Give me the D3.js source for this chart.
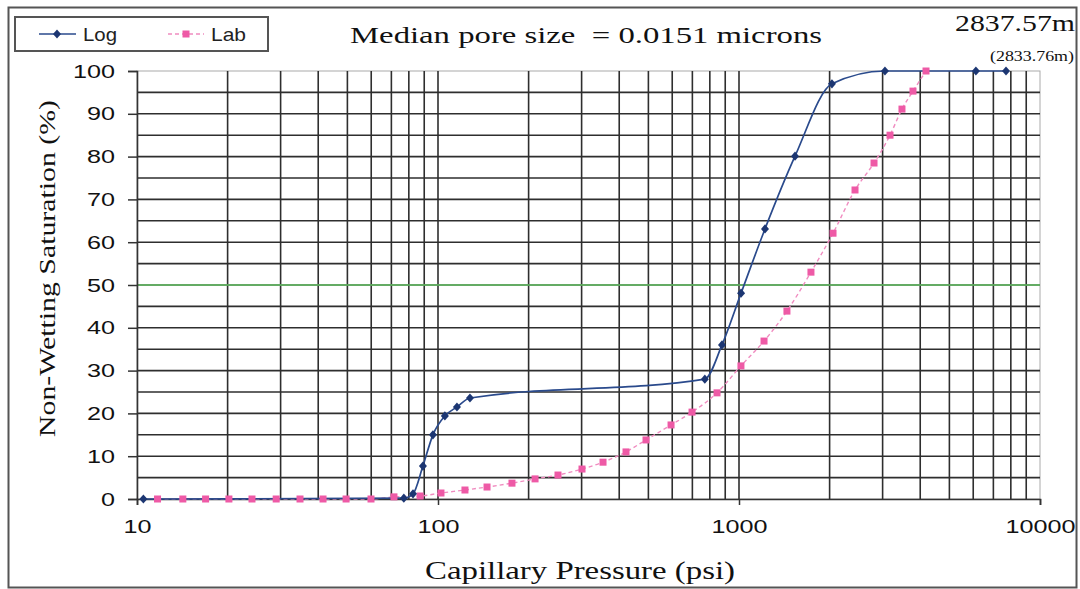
<!DOCTYPE html>
<html>
<head>
<meta charset="utf-8">
<script src="https://cdn.jsdelivr.net/npm/d3@7"></script>
<style>
  html, body { margin: 0; padding: 0; background: #fff; }
  svg { display: block; }
</style>
</head>
<body>
<svg id="chart" width="1080" height="589"></svg>
<script>
// Mercury-injection capillary pressure curves: log-derived vs. laboratory
const logPressure   = [10.5, 77, 82.6, 89.1, 96.2, 105.4, 115.6, 127.7, 770, 878, 1016, 1220, 1535, 2036, 3054, 6124, 7711];
const logSaturation = [0, 0.2, 1.2, 7.7, 15, 19.4, 21.5, 23.6, 28.0, 36.0, 48.1, 63.1, 80.1, 97.0, 100, 100, 100];

const labPressure   = [11.7, 14.2, 16.9, 20.2, 24.1, 29.0, 34.8, 41.5, 49.5, 59.9, 71.4, 87.2, 102.3, 122.9, 145.5,
                       176.1, 210.1, 250.4, 300.9, 353.4, 421.3, 491.0, 594.6, 698.2, 845.3, 1015, 1211, 1443,
                       1734, 2053, 2429, 2809, 3175, 3479, 3785, 4181];
const labSaturation = [0, 0, 0, 0, 0, 0, 0, 0, 0, 0, 0.5, 0.7, 1.4, 2.1, 2.8,
                       3.7, 4.7, 5.6, 7.0, 8.6, 11.0, 13.8, 17.3, 20.3, 24.8, 31.1, 36.9, 43.9,
                       53.0, 62.1, 72.2, 78.5, 85.0, 91.1, 95.3, 100];

const xTickValues = [10, 100, 1000, 10000];
const yTickValues = [0, 10, 20, 30, 40, 50, 60, 70, 80, 90, 100];
const medianLine = 50;

const titleText = "Median pore size  = 0.0151 microns";
const depthText = "2837.57m";
const subDepthText = "(2833.76m)";
const xTitle = "Capillary Pressure (psi)";
const yTitle = "Non-Wetting Saturation (%)";
const seriesNames = ["Log", "Lab"];

const svg = d3.select("#chart");
const serif = "'Liberation Serif', 'Times New Roman', serif";
const sans = "'Liberation Sans', Arial, sans-serif";

const x = d3.scaleLog().domain([10, 10000]).range([137, 1040]);
const y = d3.scaleLinear().domain([0, 100]).range([499, 71]);

// outer frame
svg.append("rect")
  .attr("x", 8.5).attr("y", 7.5).attr("width", 1068).attr("height", 580)
  .attr("fill", "#fff").attr("stroke", "#555").attr("stroke-width", 2);

// plot background
svg.append("rect")
  .attr("x", x(10)).attr("y", y(100))
  .attr("width", x(10000) - x(10)).attr("height", y(0) - y(100))
  .attr("fill", "#fff").attr("stroke", "#aaa").attr("stroke-width", 1);

const grid = svg.append("g").attr("stroke", "#2e2e2e").attr("stroke-width", 1.6);

// horizontal grid every 5 %
const hLines = d3.range(5, 100, 5);
grid.selectAll("line.h").data(hLines).join("line")
  .attr("class", "h")
  .attr("x1", x(10)).attr("x2", x(10000))
  .attr("y1", d => y(d)).attr("y2", d => y(d));

// vertical log grid
const vLines = [];
[10, 100, 1000].forEach(dec => {
  for (let k = 2; k <= 9; k++) vLines.push(dec * k);
});
vLines.push(100, 1000);
grid.selectAll("line.v").data(vLines).join("line")
  .attr("class", "v")
  .attr("x1", d => x(d)).attr("x2", d => x(d))
  .attr("y1", y(0)).attr("y2", y(100));

// 50 % reference line
svg.append("line")
  .attr("x1", x(10)).attr("x2", x(10000))
  .attr("y1", y(medianLine)).attr("y2", y(medianLine))
  .attr("stroke", "#66c466").attr("stroke-width", 1.6);

// axes
const yAxis = svg.append("g")
  .attr("transform", `translate(${x(10)},0)`)
  .call(d3.axisLeft(y).tickValues(yTickValues).tickSize(9).tickPadding(13).tickFormat(d3.format("d")));
const xAxis = svg.append("g")
  .attr("transform", `translate(0,${y(0)})`)
  .call(d3.axisBottom(x).tickValues(xTickValues).tickSize(6).tickPadding(15).tickFormat(d3.format("d")));

[yAxis, xAxis].forEach(ax => {
  ax.select(".domain").attr("stroke", "#333").attr("stroke-width", 1.6);
  ax.selectAll(".tick line").attr("stroke", "#333").attr("stroke-width", 1.5);
  ax.selectAll(".tick text")
    .attr("font-family", sans).attr("font-size", 19).attr("fill", "#111")
    .attr("textLength", function () { return this.textContent.length * 14; })
    .attr("lengthAdjust", "spacingAndGlyphs");
});

// series
const logData = logPressure.map((p, i) => ({ p, s: logSaturation[i] }));
const labData = labPressure.map((p, i) => ({ p, s: labSaturation[i] }));

const lineGen = d3.line().x(d => x(d.p)).y(d => y(d.s)).curve(d3.curveMonotoneX);

svg.append("path").datum(labData)
  .attr("d", lineGen)
  .attr("fill", "none").attr("stroke", "#f08cc0").attr("stroke-width", 1.4)
  .attr("stroke-dasharray", "4,3");

svg.append("path").datum(logData)
  .attr("d", lineGen)
  .attr("fill", "none").attr("stroke", "#2a4a8c").attr("stroke-width", 1.7);

const diamond = "M0,-4.6L4,0L0,4.6L-4,0Z";
const logColor = "#1c3672";
const labColor = "#ee5aa6";

svg.append("g").selectAll("rect").data(labData).join("rect")
  .attr("x", d => x(d.p) - 3.5).attr("y", d => y(d.s) - 3.5)
  .attr("width", 7).attr("height", 7).attr("fill", labColor);

svg.append("g").selectAll("path").data(logData).join("path")
  .attr("transform", d => `translate(${x(d.p)},${y(d.s)})`)
  .attr("d", diamond).attr("fill", logColor);

// legend
const lg = svg.append("g");
lg.append("rect").attr("x", 15).attr("y", 17).attr("width", 253).attr("height", 34)
  .attr("fill", "#fff").attr("stroke", "#555").attr("stroke-width", 2);
lg.append("line").attr("x1", 39).attr("x2", 76).attr("y1", 34).attr("y2", 34)
  .attr("stroke", "#2a4a8c").attr("stroke-width", 1.7);
lg.append("path").attr("transform", "translate(57,34)").attr("d", diamond).attr("fill", logColor);
lg.append("text").attr("x", 83).attr("y", 41).text(seriesNames[0])
  .attr("font-family", sans).attr("font-size", 19).attr("fill", "#222")
  .attr("textLength", 34).attr("lengthAdjust", "spacingAndGlyphs");
lg.append("line").attr("x1", 168).attr("x2", 204).attr("y1", 34).attr("y2", 34)
  .attr("stroke", "#f08cc0").attr("stroke-width", 1.4).attr("stroke-dasharray", "4,3");
lg.append("rect").attr("x", 182.5).attr("y", 30.5).attr("width", 7).attr("height", 7).attr("fill", labColor);
lg.append("text").attr("x", 211).attr("y", 41).text(seriesNames[1])
  .attr("font-family", sans).attr("font-size", 19).attr("fill", "#222")
  .attr("textLength", 35).attr("lengthAdjust", "spacingAndGlyphs");

// titles
function serifText(str, xPos, yPos, size, width) {
  return svg.append("text")
    .attr("x", xPos).attr("y", yPos)
    .attr("font-family", serif).attr("font-size", size).attr("fill", "#111")
    .attr("textLength", width).attr("lengthAdjust", "spacingAndGlyphs")
    .style("white-space", "pre")
    .text(str);
}
serifText(titleText, 350, 43, 24, 472);
serifText(depthText, 955, 31, 23, 120);
serifText(subDepthText, 990, 61, 15, 84);
serifText(xTitle, 425, 579, 25, 310);

svg.append("text")
  .attr("transform", "translate(55,437) rotate(-90)")
  .attr("font-family", serif).attr("font-size", 24).attr("fill", "#111")
  .attr("textLength", 337).attr("lengthAdjust", "spacingAndGlyphs")
  .text(yTitle);
</script>
</body>
</html>
